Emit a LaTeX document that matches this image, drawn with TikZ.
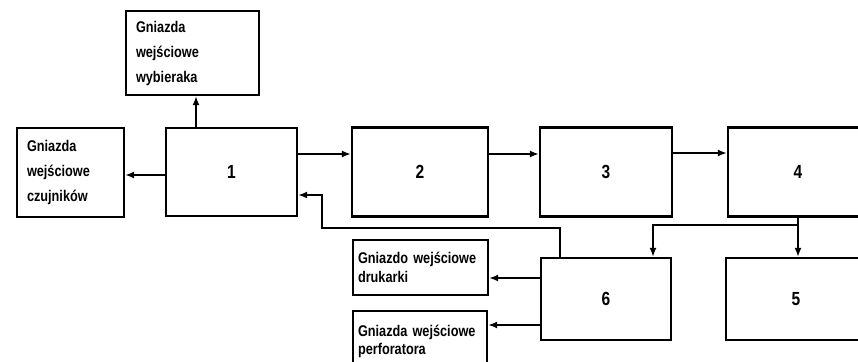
\documentclass[tikz,border=0pt]{standalone}
\usepackage{fontspec}
\newfontfamily\lab[FakeStretch=0.82]{Liberation Sans}
\usetikzlibrary{arrows.meta}
\begin{document}
\begin{tikzpicture}[x=1pt,y=-1pt,
  box/.style={draw, line width=2.4pt, inner sep=0pt, font=\lab\bfseries\fontsize{19}{22}\selectfont},
  gbox/.style={draw, line width=2.4pt, inner ysep=0pt, inner xsep=10pt, align=left},
  tri/.style={font=\lab\bfseries\fontsize{15.5}{25}\selectfont},
  duo/.style={font=\lab\bfseries\fontsize{15.5}{19.5}\selectfont},
  conn/.style={line width=1.5pt},
  arr/.style={conn, -{Latex[length=9pt,width=7pt]}}]
\useasboundingbox (0,0) rectangle (858,361);
\clip (0,0) rectangle (858,361);
% main blocks
\node[box, minimum width=131pt, minimum height=88pt] (b1) at (231.5,172) {1};
\node[box, minimum width=136pt, minimum height=89pt] (b2) at (420,172) {2};
\node[box, minimum width=132pt, minimum height=89pt] (b3) at (606,172) {3};
\node[box, minimum width=140pt, minimum height=89pt] (b4) at (798,172) {4};
\node[box, minimum width=130pt, minimum height=82pt] (b6) at (606,299) {6};
\node[box, minimum width=140pt, minimum height=82pt] (b5) at (796,299) {5};
% socket blocks
\node[gbox, tri, text width=113pt, minimum height=84pt] (wyb) at (192.5,53) {Gniazda\\wejściowe\\wybieraka};
\node[gbox, tri, text width=87pt, minimum height=89pt] (czu) at (70.5,172.5) {Gniazda\\wejściowe\\czujników};
\node[gbox, duo, inner xsep=5pt, text width=125pt, minimum height=55pt] (dru) at (420.5,267.5) {Gniazdo wejściowe\\drukarki};
\node[gbox, inner xsep=5pt, text width=124pt, minimum height=60pt, anchor=north, font=\lab\bfseries\fontsize{15.5}{18}\selectfont] (per) at (420,310) {Gniazda wejściowe\\perforatora\\[8pt]};
% chain
\draw[arr] (b1.east |- 0,154) -- (b2.west |- 0,154);
\draw[arr] (b2.east |- 0,154) -- (b3.west |- 0,154);
\draw[arr] (b3.east |- 0,153) -- (b4.west |- 0,153);
% outputs of 1
\draw[arr] (b1.north -| 196,0) -- (wyb.south -| 196,0);
\draw[arr] (b1.west |- 0,175) -- (czu.east |- 0,175);
% feedback 6 -> 1
\coordinate (fb1) at (560,228);
\coordinate (fb2) at (322,228);
\coordinate (fb3) at (322,195);
\draw[arr] (b6.north -| fb1) -- (fb1) -- (fb2) -- (fb3) -- (b1.east |- fb3);
% 4 -> 5 and 6
\coordinate (sp) at (798,225);
\coordinate (sp6) at (653,225);
\draw[arr] (b4.south -| sp) -- (b5.north -| sp);
\draw[arr] (sp) -- (sp6) -- (b6.north -| sp6);
% outputs of 6
\draw[arr] (b6.west |- 0,278) -- (dru.east |- 0,278);
\draw[arr] (b6.west |- 0,325) -- (per.east |- 0,325);
\end{tikzpicture}
\end{document}
